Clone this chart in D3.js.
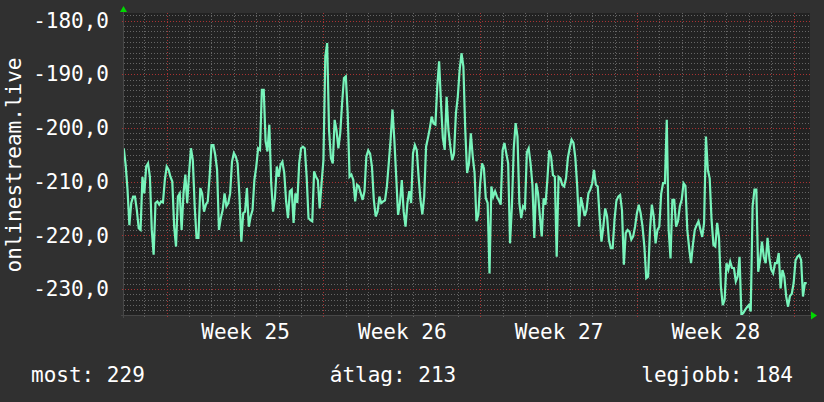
<!DOCTYPE html>
<html>
<head>
<meta charset="utf-8">
<script src="https://cdn.jsdelivr.net/npm/d3@7"></script>
<style>
	body { margin: 0; background: #303030; }
	svg { display: block; }
	text { font-family: "DejaVu Sans Mono", monospace; }
</style>
</head>
<body>
<svg id="RrdCanvas"></svg>
<script>
// samples are 2 hours apart, first one at startTime
const startTime = new Date(2024, 5, 15, 2);
const stepHours = 2;

const block1 = [
	-203.8, -206.9, -211.5, -218.1, -214.0, -212.8, -212.8, -215.3, -218.7, -219.0,
	-209.1, -212.2, -207.2, -206.6, -209.1, -219.0, -223.6, -214.0, -213.7, -214.3,
	-213.7, -213.9, -209.7, -207.2, -207.8, -209.1, -210.0, -218.4, -222.1, -212.8,
	-212.2, -219.0, -212.2, -208.7, -214.0, -208.4, -203.8, -206.0, -214.6, -220.5,
	-220.5, -211.2, -212.2, -215.6, -214.3, -213.7, -209.1, -203.2, -203.2, -205.0,
	-207.8, -219.0, -216.8, -215.3, -212.2, -214.6, -214.0, -212.2, -206.3, -204.7,
	-205.3, -206.6, -212.8, -221.2, -215.9, -215.6, -211.2, -218.4, -216.5, -215.3,
	-209.7, -207.2, -203.8, -204.1, -192.9, -192.9, -202.5, -204.4, -199.4, -210.3,
	-215.6, -213.1, -207.2, -209.1, -206.9, -206.3, -208.4, -213.7, -216.8, -211.8,
	-211.5, -217.7, -212.2
];
const block2 = [
	-214.0, -206.6, -203.8, -203.5, -203.8, -209.1, -216.8, -217.2, -217.4, -208.1,
	-209.1, -209.7, -215.0, -210.3, -206.0, -186.7, -184.2, -200.4, -205.6, -206.6,
	-198.5, -200.4, -203.8, -201.0, -195.4, -190.7, -190.4, -197.3, -209.1, -208.7,
	-209.7, -213.7, -210.6, -210.9, -212.2, -213.4, -211.8, -205.3, -204.2, -204.8,
	-207.2, -213.4, -216.5, -215.6, -212.8, -214.0, -213.7, -213.5, -210.9, -206.6,
	-202.2, -196.6, -202.2, -209.1, -216.2, -214.0, -209.7, -215.6, -218.4, -214.0,
	-211.8, -214.0, -204.7, -203.2, -204.1, -209.1, -213.4, -216.1, -212.8, -203.5,
	-201.9, -200.1, -197.9, -199.2, -199.4, -192.3, -187.6, -195.4, -201.9, -204.1,
	-194.2, -200.4, -203.5, -206.0, -204.8, -197.3, -194.2, -189.2, -186.1, -188.6,
	-200.4, -208.4, -206.6
];
const block3 = [
	-201.0, -205.3, -208.4, -217.4, -216.2, -210.4, -206.6, -207.5, -213.1, -214.0,
	-227.1, -210.9, -212.8, -211.8, -212.8, -213.5, -214.3, -204.2, -202.8, -204.8,
	-206.6, -221.5, -214.6, -203.8, -199.1, -201.6, -214.0, -216.8, -214.6, -215.0,
	-204.6, -203.8, -206.6, -210.6, -220.5, -210.3, -212.2, -216.5, -220.2, -213.1,
	-214.3, -209.7, -204.2, -205.3, -208.8, -209.1, -224.0, -209.1, -209.4, -210.6,
	-210.9, -209.4, -205.6, -203.7, -202.2, -202.8, -205.6, -210.9, -218.4, -212.9,
	-214.6, -216.4, -215.3, -212.2, -211.5, -210.4, -207.8, -210.6, -210.9, -216.5,
	-221.2, -218.4, -215.0, -216.5, -220.9, -222.4, -222.4, -217.1, -213.6, -212.8,
	-212.5, -215.3, -225.5, -219.6, -219.0, -219.3, -220.8, -220.2, -218.4, -215.9,
	-214.3, -215.9, -218.4
];
const block4 = [
	-222.1, -228.0, -227.7, -219.0, -214.3, -216.5, -221.5, -219.0, -218.4, -212.3,
	-210.3, -210.3, -198.5, -218.9, -224.3, -213.4, -213.4, -218.4, -217.4, -214.6,
	-213.4, -210.3, -210.8, -219.0, -222.4, -225.2, -221.8, -219.0, -218.1, -217.4,
	-218.9, -220.3, -217.7, -201.6, -207.8, -209.4, -217.1, -221.8, -222.1, -217.7,
	-220.5, -229.5, -233.0, -232.0, -225.2, -226.4, -224.9, -226.1, -226.1, -228.6,
	-227.7, -224.0, -234.8, -234.5, -233.9, -233.4, -233.0, -234.2, -214.6, -211.5,
	-211.5, -226.8, -224.6, -221.2, -224.0, -225.2, -220.5, -224.3, -226.4, -227.1,
	-225.2, -225.2, -223.3, -229.9, -226.5, -227.7, -231.4, -233.3, -231.3, -230.9,
	-228.9, -224.7, -224.0, -223.7, -224.6, -231.4, -228.9, -228.9
];

const yTickValues = [-180, -190, -200, -210, -220, -230];
const yTitle = "onlinestream.live";
const legendLabels = ["most", "átlag", "legjobb"];
const legendValues = [229, 213, 184];

class RrdChart {
	constructor() {
		this.svg = d3.select("#RrdCanvas");
		this.width = 824;
		this.height = 402;
		this.plot = { left: 124, right: 810, top: 13, bottom: 315 };
	}

	draw() {
		const p = this.plot;
		this.svg.attr("width", this.width).attr("height", this.height);

		let values = block1.concat(block2, block3, block4);
		let series = values.map((v, i) => ({ t: d3.timeHour.offset(startTime, i * stepHours), v: v }));

		const x = d3.scaleTime()
			.domain([new Date(2024, 5, 15, 2, 14), new Date(2024, 6, 15, 17, 31)])
			.range([p.left, p.right]);
		const y = d3.scaleLinear()
			.domain([-234.85, -178.6])
			.range([p.bottom, p.top]);

		this.svg.append("rect")
			.attr("x", p.left).attr("y", p.top)
			.attr("width", p.right - p.left).attr("height", p.bottom - p.top)
			.attr("fill", "#222");

		// grid: minor gray, major red, all dotted
		const grid = this.svg.append("g").attr("shape-rendering", "crispEdges");
		const dom = y.domain();
		const minorY = d3.range(Math.ceil(dom[0]), Math.floor(dom[1]) + 1).filter(v => v % 10 != 0);
		const days = d3.timeDay.range(x.domain()[0], x.domain()[1]).filter(d => d.getDay() != 1);
		const mondays = d3.timeMonday.range(x.domain()[0], x.domain()[1]);

		grid.selectAll(".hminor").data(minorY).enter().append("line")
			.attr("x1", p.left).attr("x2", p.right)
			.attr("y1", d => Math.round(y(d)) + 0.5).attr("y2", d => Math.round(y(d)) + 0.5)
			.attr("stroke", "#656565").attr("stroke-dasharray", "1,2");
		grid.selectAll(".vminor").data(days).enter().append("line")
			.attr("x1", d => Math.round(x(d)) + 0.5).attr("x2", d => Math.round(x(d)) + 0.5)
			.attr("y1", p.top).attr("y2", p.bottom + 2)
			.attr("stroke", "#656565").attr("stroke-dasharray", "1,2");
		grid.selectAll(".hmajor").data(yTickValues).enter().append("line")
			.attr("x1", p.left - 2).attr("x2", p.right)
			.attr("y1", d => Math.round(y(d)) + 0.5).attr("y2", d => Math.round(y(d)) + 0.5)
			.attr("stroke", "#a83232").attr("stroke-dasharray", "1,2");
		grid.selectAll(".vmajor").data(mondays).enter().append("line")
			.attr("x1", d => Math.round(x(d)) + 0.5).attr("x2", d => Math.round(x(d)) + 0.5)
			.attr("y1", p.top).attr("y2", p.bottom + 3)
			.attr("stroke", "#a83232").attr("stroke-dasharray", "1,2");

		// axis lines
		grid.append("line")
			.attr("x1", p.left - 3).attr("x2", p.right + 2)
			.attr("y1", p.bottom + 0.5).attr("y2", p.bottom + 0.5)
			.attr("stroke", "#474747");
		grid.append("line")
			.attr("x1", p.left - 0.5).attr("x2", p.left - 0.5)
			.attr("y1", p.top - 2).attr("y2", p.bottom + 3)
			.attr("stroke", "#474747");

		this.svg.append("clipPath").attr("id", "plotclip")
			.append("rect")
			.attr("x", p.left).attr("y", p.top)
			.attr("width", p.right - p.left).attr("height", p.bottom - p.top);

		const line = d3.line()
			.x(d => x(d.t))
			.y(d => y(d.v));
		this.svg.append("path")
			.datum(series)
			.attr("clip-path", "url(#plotclip)")
			.attr("fill", "none")
			.attr("stroke", "#78f4bb")
			.attr("stroke-width", 2.2)
			.attr("stroke-linejoin", "miter")
			.attr("d", line);

		// arrows
		this.svg.append("path")
			.attr("d", `M${p.left - 4},${p.top - 1}L${p.left + 3},${p.top - 1}L${p.left - 0.5},${p.top - 7}Z`)
			.attr("fill", "#00d800");
		this.svg.append("path")
			.attr("d", `M${p.right + 1},${p.bottom - 3.5}L${p.right + 1},${p.bottom + 4.5}L${p.right + 7},${p.bottom + 0.5}Z`)
			.attr("fill", "#00d800");

		// y labels
		const locale = d3.formatLocale({ decimal: ",", thousands: " ", grouping: [3], currency: ["", ""], minus: "-" });
		const fmt = locale.format(".1f");
		const yAxis = this.svg.append("g")
			.attr("transform", `translate(${p.left},0)`)
			.call(d3.axisLeft(y).tickValues(yTickValues).tickFormat(fmt).tickSize(0).tickPadding(15));
		yAxis.select(".domain").remove();
		yAxis.selectAll("text")
			.attr("fill", "#fff")
			.style("font-size", "21px")
			.style("font-family", "DejaVu Sans Mono");

		// week labels, centred in the middle of each week
		const weekFmt = d3.timeFormat("%V");
		const mids = mondays
			.map(m => d3.timeHour.offset(m, 84))
			.filter(d => d > x.domain()[0] && d < x.domain()[1]);
		const xAxis = this.svg.append("g")
			.attr("transform", `translate(0,${p.bottom})`)
			.call(d3.axisBottom(x).tickValues(mids)
				.tickFormat(d => "Week " + weekFmt(d))
				.tickSize(0).tickPadding(9));
		xAxis.select(".domain").remove();
		xAxis.selectAll("text")
			.attr("fill", "#fff")
			.style("font-size", "21px")
			.style("font-family", "DejaVu Sans Mono");

		this.svg.append("text")
			.attr("transform", `translate(21,${(p.top + p.bottom) / 2 + 1}) rotate(-90)`)
			.attr("text-anchor", "middle")
			.attr("fill", "#fff")
			.style("font-size", "21px")
			.text(yTitle);

		// legend
		const anchors = ["start", "middle", "end"];
		const legendX = [31, 393, 793];
		this.svg.selectAll(".legend")
			.data(legendLabels)
			.enter().append("text")
			.attr("class", "legend")
			.attr("x", (d, i) => legendX[i])
			.attr("y", 382)
			.attr("text-anchor", (d, i) => anchors[i])
			.attr("fill", "#fff")
			.style("font-size", "21px")
			.text((d, i) => d + ": " + legendValues[i]);
	}
}

const chart = new RrdChart();
chart.draw();
</script>
</body>
</html>
